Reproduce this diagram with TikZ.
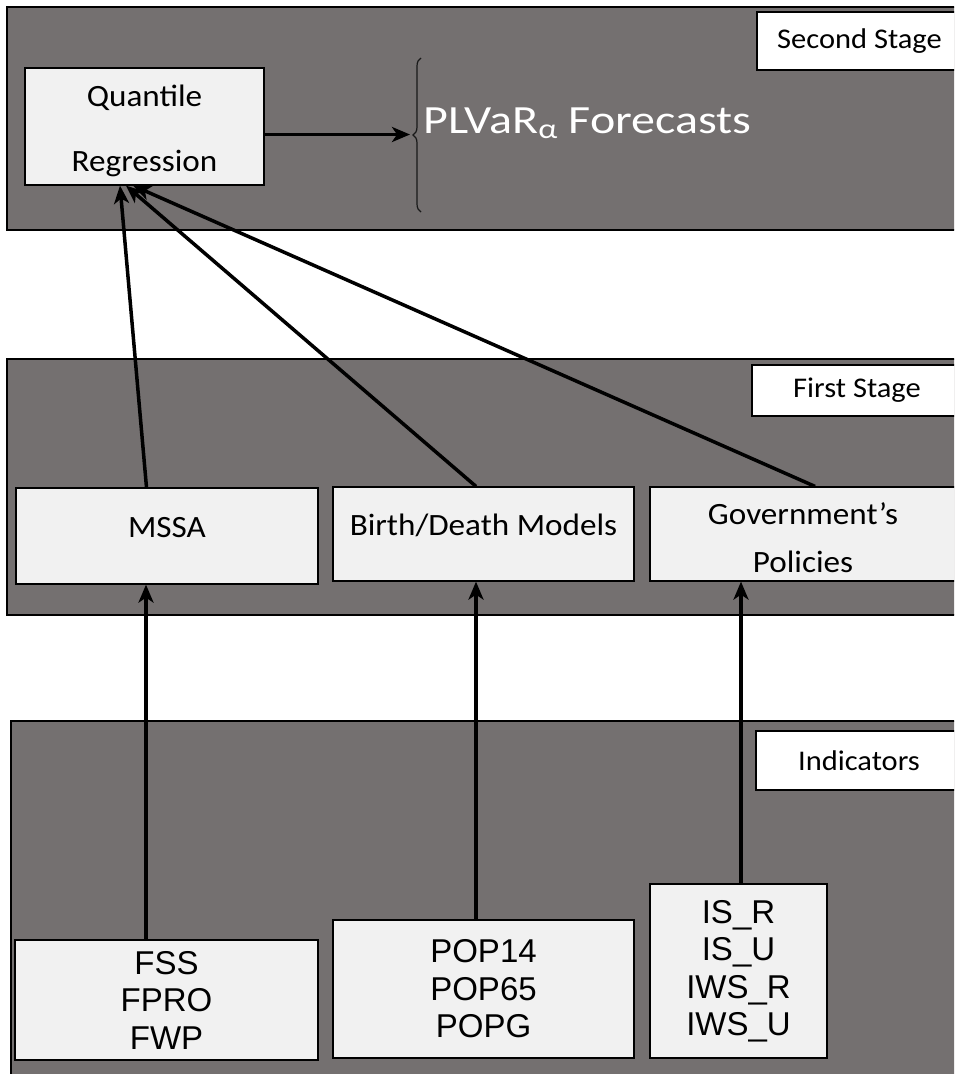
\documentclass[tikz,border=0pt]{standalone}
\usepackage{fontspec}
\setmainfont{Carlito}[FakeStretch=1.07]
\newfontfamily\arialfont{Liberation Sans}
\newfontfamily\widefont{Carlito}[FakeStretch=1.2]
\usetikzlibrary{arrows.meta,decorations.pathreplacing}
\definecolor{panelgray}{RGB}{116,112,112}
\definecolor{boxgray}{RGB}{241,241,241}
\tikzset{
  panel/.style={draw=black,line width=1.5pt,fill=panelgray},
  stagelabel/.style={draw=black,line width=1.2pt,fill=white,inner sep=0pt,font=\fontsize{28.5}{34}\selectfont},
  procbox/.style={draw=black,line width=1.2pt,fill=boxgray,inner sep=0pt,align=center,font=\fontsize{31}{48}\selectfont},
  indbox/.style={draw=black,line width=1.2pt,fill=boxgray,inner sep=0pt,align=center,font=\arialfont\fontsize{33}{37.5}\selectfont},
  arr/.style={-{Stealth[length=18pt,width=15pt,inset=5pt]},line width=3.5pt,black},
}
\begin{document}
\begin{tikzpicture}[x=1pt,y=-1pt]
\useasboundingbox (0,0) rectangle (954,1074);
\clip (0,0) rectangle (954,1074);
% stage panels
\draw[panel] (7,7) rectangle (962,230);
\draw[panel] (7,359) rectangle (962,615);
\draw[panel] (11,721) rectangle (962,1082);
\node[stagelabel,minimum width=205pt,minimum height=58pt] (lbl2) at (859.5,41) {Second Stage};
\node[stagelabel,minimum width=210pt,minimum height=51pt] (lbl1) at (857,390.5) {First Stage};
\node[stagelabel,minimum width=206pt,minimum height=59pt] (lbl0) at (859,760.5) {Indicators};
% second stage
\node[procbox,font=\fontsize{31}{65}\selectfont,text height=96pt,minimum width=239pt,minimum height=117pt] (qr) at (144.5,126.5) {Quantile\\Regression};
\draw[decorate,decoration={brace,amplitude=8pt},line width=1.2pt,black!90] (421,212) -- (421,58);
\coordinate (fctip) at (410,134.5);
\node[anchor=base west,inner sep=0pt,text=white,font=\widefont\fontsize{40}{48}\selectfont] (fc) at (423,133) {PLVaR\textsubscript{α} Forecasts};
% first stage
\node[procbox,text depth=18pt,minimum width=302pt,minimum height=96pt] (mssa) at (167,536) {MSSA};
\node[procbox,text depth=18pt,minimum width=301pt,minimum height=94pt] (bd) at (483.5,534) {Birth/Death Models};
\node[procbox,text height=78pt,minimum width=306pt,minimum height=94pt] (gov) at (803,534) {Government’s\\Policies};
% indicators
\node[indbox,minimum width=303pt,minimum height=120pt] (fss) at (166.5,1000) {FSS\\FPRO\\FWP};
\node[indbox,minimum width=301pt,minimum height=138pt] (pop) at (483.5,989) {POP14\\POP65\\POPG};
\node[indbox,minimum width=177pt,minimum height=174pt] (isw) at (738.5,971) {IS\_R\\IS\_U\\IWS\_R\\IWS\_U};
% arrows
\draw[arr] ([yshift=-8pt]qr.east) -- (fctip);
\draw[arr] ([xshift=-20.5pt]mssa.north) -- ([xshift=-24.5pt]qr.south);
\draw[arr] ([xshift=-7.5pt]bd.north) -- ([xshift=-18.5pt]qr.south);
\draw[arr] ([xshift=12pt]gov.north) -- ([xshift=-11.5pt]qr.south);
\draw[arr] ([xshift=-20.5pt]fss.north) -- ([xshift=-21pt]mssa.south);
\draw[arr] ([xshift=-7.5pt]pop.north) -- ([xshift=-7.5pt]bd.south);
\draw[arr] ([xshift=2.5pt]isw.north) -- ([xshift=-62pt]gov.south);
\end{tikzpicture}
\end{document}
